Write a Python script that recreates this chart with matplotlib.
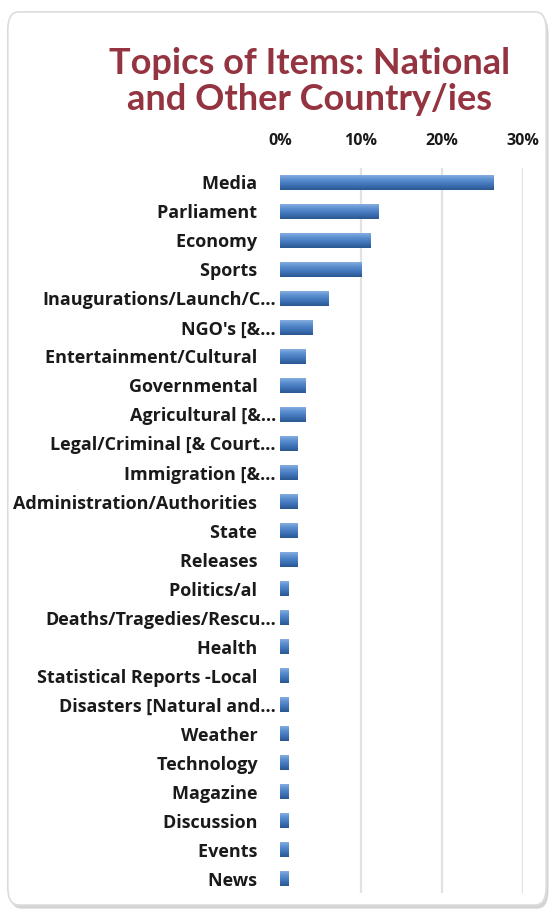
import numpy as np
import matplotlib
matplotlib.use("Agg")
import matplotlib.pyplot as plt
from matplotlib.patches import FancyBboxPatch

plt.rcParams["font.family"] = ["Open Sans", "DejaVu Sans"]

# share of items per topic, in percent
topics = [
    "Media", "Parliament", "Economy", "Sports",
    "Inaugurations/Launch/C...", "NGO's [&...",
    "Entertainment/Cultural", "Governmental", "Agricultural [&...",
    "Legal/Criminal [& Court...", "Immigration [&...",
    "Administration/Authorities", "State", "Releases", "Politics/al",
    "Deaths/Tragedies/Rescu...", "Health", "Statistical Reports -Local",
    "Disasters [Natural and...", "Weather", "Technology", "Magazine",
    "Discussion", "Events", "News",
]
shares = [
    26.4, 12.2, 11.2, 10.1,
    6.0, 4.0,
    3.1, 3.1, 3.1,
    2.1, 2.1,
    2.1, 2.1, 2.1, 1.1,
    1.1, 1.1, 1.1,
    1.1, 1.1, 1.1, 1.1,
    1.1, 1.1, 1.1,
]
ticks = [0, 10, 20, 30]
tick_labels = ["0%", "10%", "20%", "30%"]

fig = plt.figure(figsize=(5.54, 9.16), dpi=100)
fig.patch.set_facecolor("white")

# rounded chart frame with a soft shadow, kept behind the axes
shadow = FancyBboxPatch((0.018, 0.008), 0.972, 0.975,
                        boxstyle="round,pad=0,rounding_size=0.02",
                        transform=fig.transFigure, facecolor="#b8b8b8",
                        edgecolor="none", alpha=0.6, zorder=-2)
frame = FancyBboxPatch((0.014, 0.012), 0.972, 0.975,
                       boxstyle="round,pad=0,rounding_size=0.02",
                       transform=fig.transFigure, facecolor="white",
                       edgecolor="#dcdcdc", linewidth=1.2, zorder=-1)
fig.patches.extend([shadow, frame])

fig.text(0.558, 0.911, "Topics of Items: National\nand Other Country/ies",
         ha="center", va="center", fontsize=26, fontweight="bold",
         family=["Lato", "DejaVu Sans"], color="#943440", linespacing=1.08)

ax = fig.add_axes([0.5054, 0.0251, 0.4386, 0.7915])
ax.set_facecolor("none")

y = np.arange(len(topics))
bars = ax.barh(y, shares, height=0.55, color="#4a7ebb", zorder=2)

# glossy vertical gradient on each bar
grad = np.linspace(0, 1, 64).reshape(-1, 1)
cmap = matplotlib.colors.LinearSegmentedColormap.from_list(
    "bar", ["#8fb4e3", "#5b8fd0", "#3f74b8", "#2a5791"])
for b in bars:
    x0, y0 = b.get_x(), b.get_y()
    w, h = b.get_width(), b.get_height()
    im = ax.imshow(grad, extent=[x0, x0 + w, y0 + h, y0], cmap=cmap,
                   aspect="auto", zorder=3, interpolation="bicubic")
    im.set_clip_path(b)

ax.set_xlim(0, 30)
ax.set_ylim(len(topics) - 0.5, -0.5)

ax.xaxis.tick_top()
ax.set_xticks(ticks)
ax.set_xticklabels(tick_labels)
ax.tick_params(axis="x", length=0, pad=14, labelsize=11.5, labelcolor="#1a1a1a")
for t in ax.get_xticklabels():
    t.set_fontweight("bold")

# labels that were not shortened keep trailing room, like the truncated ones
ylabels = [t if t.endswith("...") else t + "    " for t in topics]
ax.set_yticks(y)
ax.set_yticklabels(ylabels)
ax.tick_params(axis="y", length=0, pad=3, labelsize=13, labelcolor="#1a1a1a")
for t in ax.get_yticklabels():
    t.set_fontweight("bold")

ax.grid(axis="x", color="#e2e2e2", linewidth=1.6, zorder=1)
ax.xaxis.get_gridlines()[0].set_visible(False)
ax.set_axisbelow(True)
for s in ax.spines.values():
    s.set_visible(False)

fig.savefig("out.png", dpi=100)
